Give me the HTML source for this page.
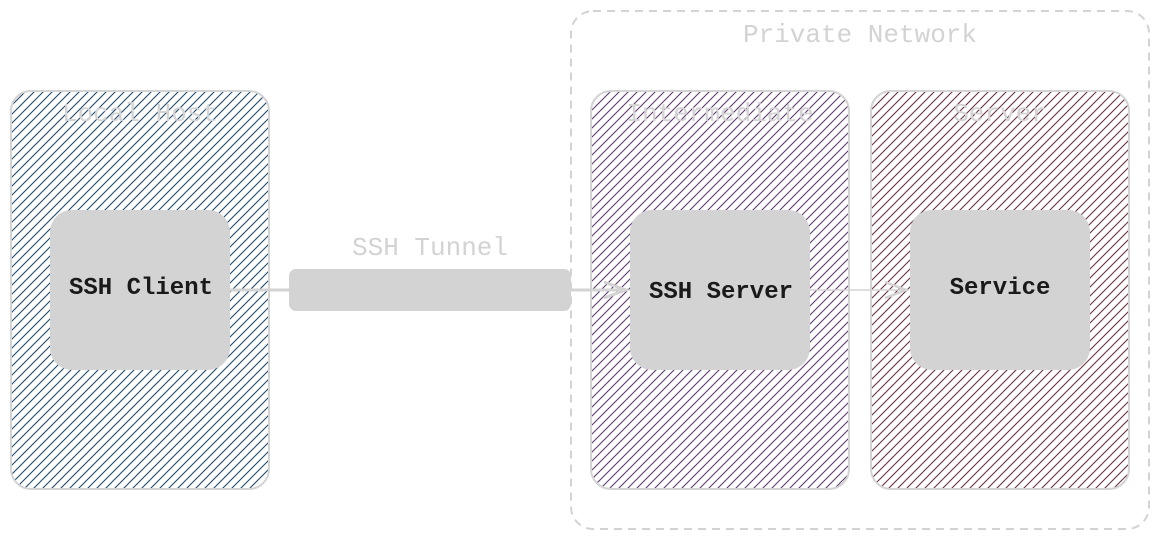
<!DOCTYPE html>
<html><head><meta charset="utf-8"><style>
html,body{margin:0;padding:0;background:#fff;width:1160px;height:540px;overflow:hidden}
text{font-family:"Liberation Mono","DejaVu Sans Mono",monospace}
</style></head><body>
<svg width="1160" height="540" viewBox="0 0 1160 540" xmlns="http://www.w3.org/2000/svg">
<defs>
<pattern id="hb" patternUnits="userSpaceOnUse" width="9" height="9"><path d="M-2,2 L2,-2 M0,9 L9,0 M7,11 L11,7" stroke="#1f4a6e" stroke-width="1.1"/></pattern>
<pattern id="hp" patternUnits="userSpaceOnUse" width="9" height="9"><path d="M-2,2 L2,-2 M0,9 L9,0 M7,11 L11,7" stroke="#5e3a70" stroke-width="1.1"/></pattern>
<pattern id="hm" patternUnits="userSpaceOnUse" width="9" height="9"><path d="M-2,2 L2,-2 M0,9 L9,0 M7,11 L11,7" stroke="#6a3040" stroke-width="1.1"/></pattern>
</defs>
<rect x="571" y="11" width="578" height="518" rx="22" fill="none" stroke="#d3d3d3" stroke-width="2" stroke-dasharray="8,6"/>
<text x="860" y="42" font-size="26" fill="#d3d3d3" text-anchor="middle">Private Network</text>

<rect x="11" y="91" width="258" height="398" rx="20" fill="url(#hb)" stroke="#d3d3d3" stroke-width="2"/>
<rect x="591" y="91" width="258" height="398" rx="20" fill="url(#hp)" stroke="#d3d3d3" stroke-width="2"/>
<rect x="871" y="91" width="258" height="398" rx="20" fill="url(#hm)" stroke="#d3d3d3" stroke-width="2"/>
<text x="140" y="121" font-size="26" fill="#d3d3d3" text-anchor="middle">Local Host</text>
<text x="720" y="121" font-size="26" fill="#d3d3d3" text-anchor="middle">Intermediate</text>
<text x="1000" y="121" font-size="26" fill="#d3d3d3" text-anchor="middle">Server</text>

<line x1="230" y1="290" x2="290" y2="290" stroke="#d3d3d3" stroke-width="3"/>
<rect x="289" y="269" width="282" height="42" rx="7" fill="#d3d3d3"/>
<text x="430" y="255" font-size="26" fill="#d3d3d3" text-anchor="middle">SSH Tunnel</text>
<line x1="571" y1="290" x2="628" y2="290" stroke="#d3d3d3" stroke-width="3"/>
<path d="M604,282 L626,290 L604,298" fill="none" stroke="#d3d3d3" stroke-width="3"/>
<line x1="810" y1="290" x2="908" y2="290" stroke="#d3d3d3" stroke-width="1.5"/>
<path d="M885,282 L906,290 L885,298" fill="none" stroke="#d3d3d3" stroke-width="2.5"/>

<rect x="50" y="210" width="180" height="160" rx="22" fill="#d3d3d3"/>
<rect x="630" y="210" width="180" height="160" rx="22" fill="#d3d3d3"/>
<rect x="910" y="210" width="180" height="160" rx="22" fill="#d3d3d3"/>
<text x="141" y="294" font-size="24" font-weight="bold" fill="#1a1a1a" text-anchor="middle">SSH Client</text>
<text x="721" y="298" font-size="24" font-weight="bold" fill="#1a1a1a" text-anchor="middle">SSH Server</text>
<text x="1000" y="294" font-size="24" font-weight="bold" fill="#1a1a1a" text-anchor="middle">Service</text>
</svg>
</body></html>
